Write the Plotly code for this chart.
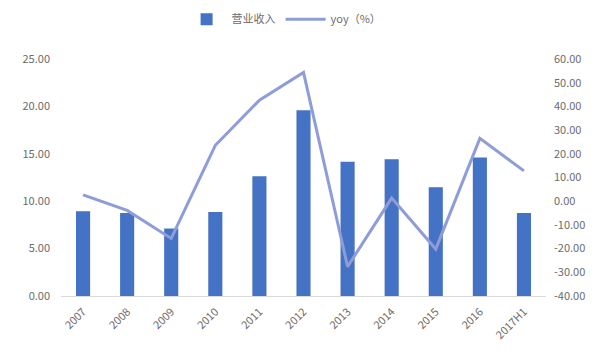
import plotly.graph_objects as go

years = ["2007", "2008", "2009", "2010", "2011", "2012", "2013", "2014", "2015", "2016", "2017H1"]
revenue = [8.93, 8.75, 7.11, 8.86, 12.62, 19.59, 14.15, 14.43, 11.47, 14.61, 8.75]
yoy = [2.7, -3.9, -15.7, 23.6, 42.6, 54.3, -27.6, 1.3, -20.2, 26.5, 12.8]

left_ticks = [0, 5, 10, 15, 20, 25]
right_ticks = [-40, -30, -20, -10, 0, 10, 20, 30, 40, 50, 60]

font_color = "#6b6b6b"

fig = go.Figure()
fig.add_trace(go.Bar(
    x=years, y=revenue, name="营业收入",
    marker=dict(color="#4472C4", line=dict(width=0)),
    yaxis="y",
))
fig.add_trace(go.Scatter(
    x=years, y=yoy, name="yoy（%）", mode="lines",
    line=dict(color="#8E9DD8", width=3),
    yaxis="y2",
))

fig.update_layout(
    width=605, height=354,
    margin=dict(l=61, r=59, t=59, b=56),
    paper_bgcolor="white", plot_bgcolor="white",
    font=dict(family="Noto Sans CJK SC, DejaVu Sans", size=11, color=font_color),
    bargap=0.68,
    showlegend=True,
    legend=dict(orientation="h", x=0.46, xanchor="center", y=0.905, yanchor="bottom",
                yref="container", font=dict(size=11, color=font_color),
                itemwidth=40, traceorder="normal"),
    xaxis=dict(type="category", tickangle=-45, showgrid=False, showline=True,
               linecolor="#d9d9d9", linewidth=1, ticks="", tickfont=dict(size=11),
               ticklabelstandoff=4),
    yaxis=dict(range=[0, 25], tickvals=left_ticks,
               ticktext=[f"{v:.2f}" for v in left_ticks],
               showgrid=False, zeroline=False, showline=False, ticks="",
               tickfont=dict(size=11), ticklabelstandoff=10),
    yaxis2=dict(range=[-40, 60], tickvals=right_ticks,
                ticktext=[f"{v:.2f}" for v in right_ticks],
                overlaying="y", side="right", showgrid=False, zeroline=False,
                showline=False, ticks="", tickfont=dict(size=11),
                ticklabelstandoff=7),
)

fig.write_html("out.html")
